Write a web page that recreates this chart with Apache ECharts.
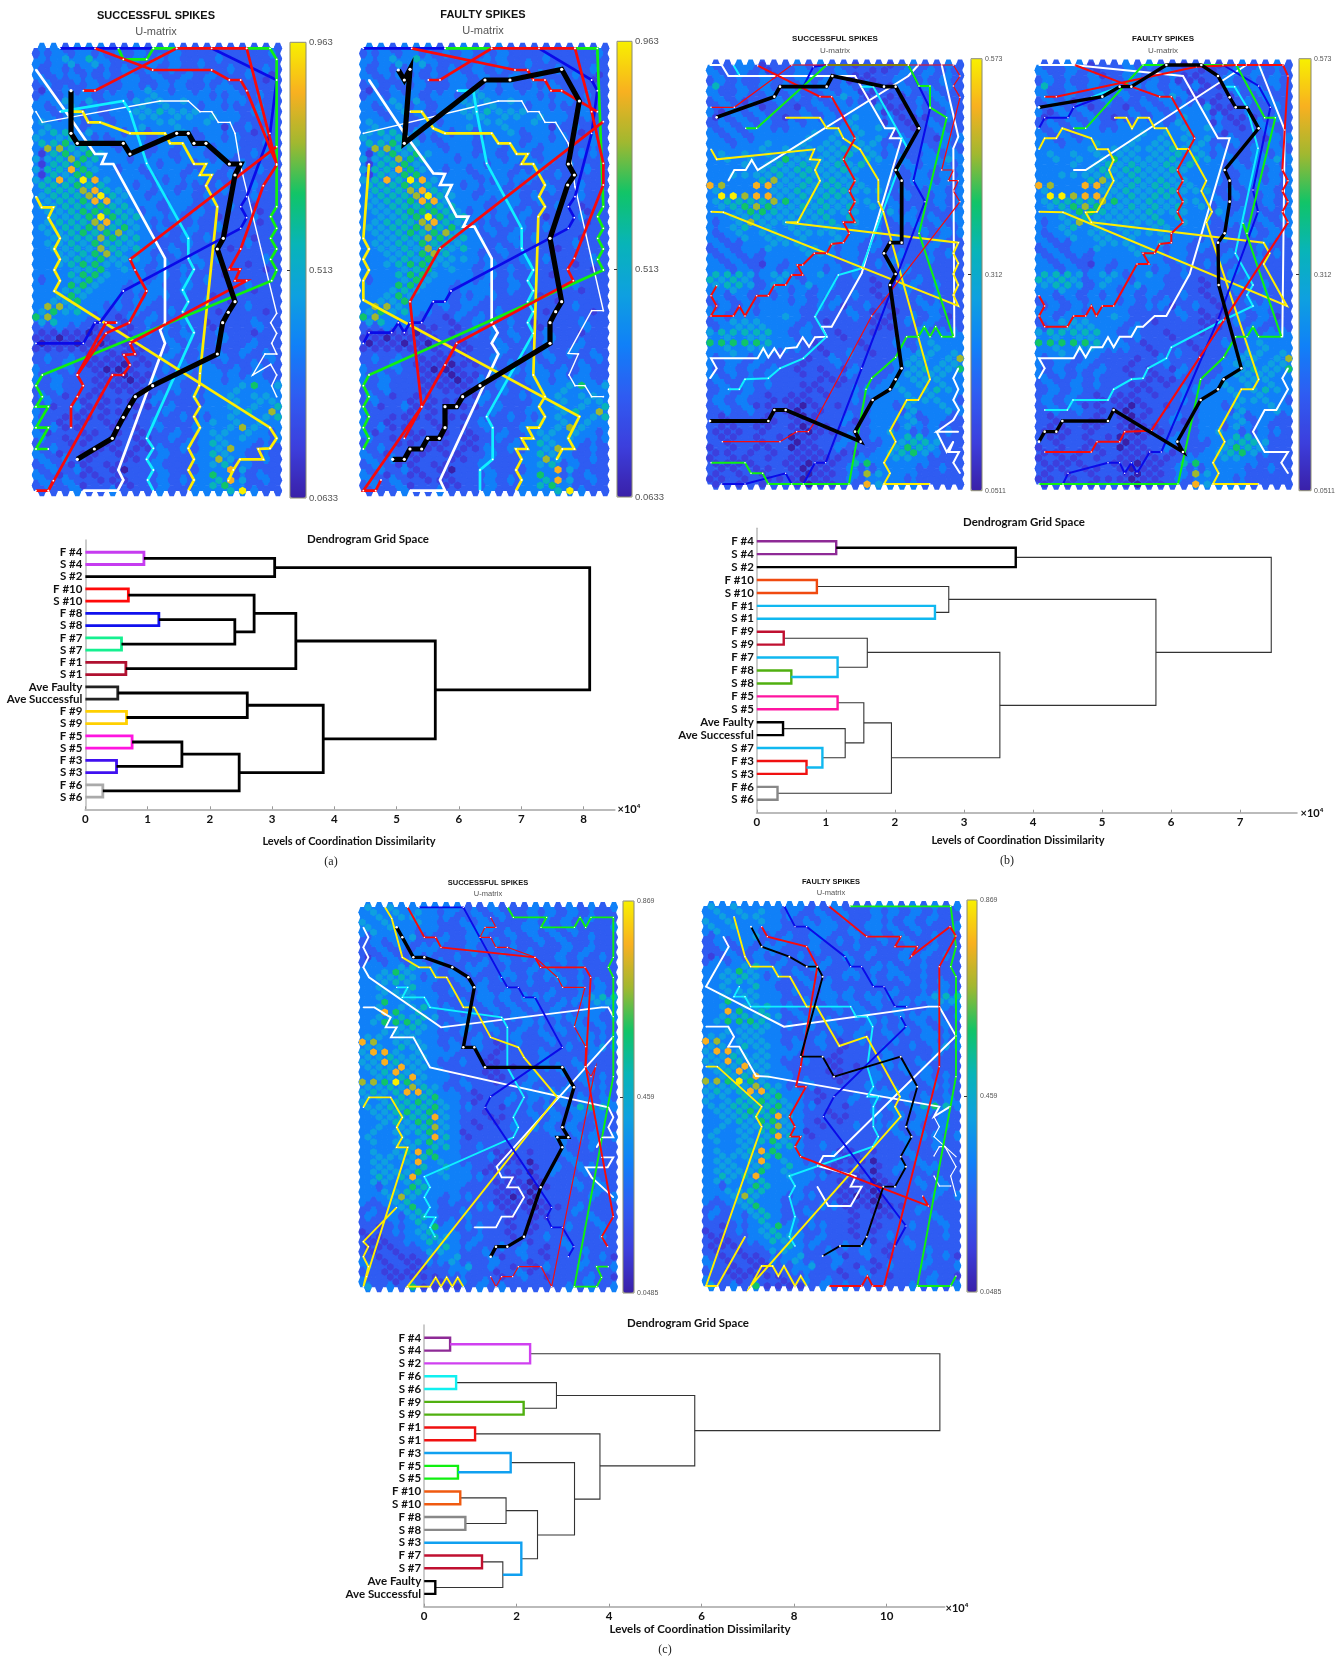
<!DOCTYPE html>
<html><head><meta charset="utf-8">
<style>html,body{margin:0;padding:0;background:#fff}#c{width:1343px;height:1657px}</style>
<script src="https://cdn.jsdelivr.net/npm/echarts@6/dist/echarts.min.js"></script>
</head><body><div id="c"></div>
<script>
// ---------- U-matrix cell levels (0 = range min ... 9 = range max) ----------
const umatrixA=[
"3323332 2322322 2222222","2232322 3232232 2222223","3343532 2323322 2322222","3234343 2223232 3222222",
"2322322 3232322 2232232","3233223 2323223 2322321","3223322 3323232 3222212","2322232 2322332 2232222",
"1232322 3343232 3332222","2323323 3234333 3223232","3343423 3444343 3333222","3234232 3343433 2322232",
"3234323 3445444 3332322","3323232 3344344 3433232","4333232 3334433 4332222","3433233 3343343 3312322",
"4553433 2323342 3332132","4345322 3332333 2323222","5565432 3323332 3332232","3775533 2332323 3233222",
"1564643 3323233 2332332","4457653 3233323 3232222","1556433 3332332 3323222","4558643 2323332 2322232",
"1546633 3323323 3232222","4585984 3332233 3222222","5556553 3233322 2322322","3555785 4332323 2232222",
"4555795 4323332 3222322","3455688 4333233 2322222","4455565 5332332 2232122","3445666 5423232 3222212",
"3445696 5533323 2122322","3455578 5432232 2222212","4455675 6433223 2322222","3445656 7432323 2212222",
"3445576 5532232 3222122","3445465 5433223 2222322","3445475 4532322 2212222","3344567 5332232 2222222",
"3345464 4433223 2322232","3345664 4332322 3222122","3334563 4323232 2222212","3335664 3332322 2212222",
"2334643 3323232 3222222","3336643 3233223 2222322","3345433 2333232 2222122","3346433 3223322 2122222",
"3446333 2332222 3212222","3774332 3232222 2222322","4645332 2322322 2122212","6733322 1323222 2222222",
"4533222 1232232 1222322","2232211 2122322 2122232","1111012 1232232 2322122","1101111 2122323 2232222",
"0110101 1122322 2322322","1111111 2112232 3222322","2222121 1122322 2323232","2323211 1212322 3232223",
"2232111 0112232 3222322","3223210 0122323 3323232","2322211 0112232 3332322","3232211 1013232 3323332",
"2322211 1122322 3334634","2232212 1112232 2334333","3212112 2113223 3343443","2322121 1123222 2334344",
"2123112 2112322 3343435","3222121 1222322 3334537","2211112 1122232 2343345","3212121 1223222 3434343",
"2311221 2123223 3347433","3122112 1212232 3443432","3212121 2112322 3434333","2221121 1212223 3543322",
"2322211 2113232 3473232","3212112 1122322 3543222","3232122 1123223 3743232","2321121 1223222 3452322",
"2323121 0223222 3384222","3212112 1222322 3632232","3232211 1223233 3584232","2323122 1122322 3563222",
"2223223 2223223 3359322"];
const umatrixB=[
"2233122 3232212 21232232","3223212 2322322 11232322","3232312 3322311 22323232","2322232 2323211 12322232",
"5232323 2332323 11323232","3223232 3223231 12232322","3232232 3223431 21122322","2321223 2232322 11223232",
"2323122 1232333 41122232","3132322 2323233 31123222","1232321 2323243 33111232","2323232 3233243 31212322",
"2323322 3333343 43212322","3232333 3343434 33122232","3232333 3434343 42322133","3323343 3434434 42232232",
"3333434 4444544 33223232","3434343 4434453 42322323","3434346 4444535 43323343","3334345 4544545 33232332",
"3333454 5544543 33233233","3344445 4544443 33223232","3333574 4545443 33233233","8733884 4545544 33223332",
"4333344 5445544 42322323","3997884 4545543 33232232","4555576 4454444 33222323","3456764 4545453 42322232",
"3346654 4454443 34232223","3344544 4445353 32332323","2347444 4445343 32332323","3345343 4434433 32223232",
"2343443 4444333 32223233","3234344 3433433 22322232","3223344 4334332 32222322","2323343 3443232 32222322",
"2323233 3443332 22322232","3232233 3333232 22322322","3232132 3333232 33222222","3323232 3332322 22232222",
"5554344 2343232 22322222","5454234 3233222 12223222","4554243 3433222 12332322","3343233 2323222 12232222",
"3232323 3232232 12222322","2323233 2322322 21223222","2323333 3233123 21223322","3323233 3222232 12122322",
"3233334 3222232 11232312","2344433 3221222 11232322","2344433 2322222 11223222","4555553 2322122 12223233",
"3434433 2322122 22223333","6666653 3212221 22323433","3434433 3212221 22323433","3343332 2221232 12234434",
"2332322 2123222 22344347","3232322 2122322 22344344","2323232 1212132 22345446","3232232 2121232 22344443",
"3223222 2211122 23344433","2323232 2112122 23434343","2323222 2112233 33434543","2323212 1121222 33343433",
"3232211 1122232 33344432","2323112 1012122 33243343","2323211 0212222 33243343","2122212 1012232 33342332",
"2122112 1122312 33342322","2112112 1011222 33243322","1112122 1011222 34322332","2112121 0112232 33355322",
"2122122 0122322 23455422","1212112 0112322 23465422","1121212 1112112 34564322","1211212 1111123 33443222",
"1111221 1011256 33333222","2112112 1011232 23332232","1212122 1011237 43332222","1121211 1011232 33322222",
"1212122 1011228 43332222"];
const umatrixC=[
"4343333 33223222 33232323","3434343 23232322 32323222","3434433 32232322 33232322","4343343 22323222 32232322",
"4343333 22333223 33232223","3433323 22233232 32323222","2333422 32332232 32322322","2323322 32232322 23232222",
"2323233 22322232 22232322","2232233 22232222 32232322","1232322 23222323 22323232","2323232 32223232 22232222",
"3334533 22332222 33223222","3346433 23232232 32322222","3445423 23222332 23323222","3345433 22323222 32232232",
"3433532 22332222 22223232","3344433 23223232 22322232","3434433 22233323 33223455","3363433 22323232 32233344",
"3434453 32323232 32322333","3386353 23232323 22322332","3445454 23322233 22333323","3466653 22323222 33223232",
"3334543 32323223 22323232","3344443 22322323 23232322","4434433 22232232 23223333","8734443 23232123 22322322",
"4435443 23232122 22232343","4884343 33222122 23222232","4454443 32221222 23222322","4485443 22321122 23223222",
"4448443 22221212 23323222","3458443 32221122 32232322","3445843 32221122 32223232","7769643 32322122 32222322",
"4454754 22322223 22232332","4545885 33212222 33332222","4435456 33212232 33323232","4345565 43212232 32232323",
"4455556 43322122 23235653","3445656 43221222 32323332","3445558 43221122 32323232","3345466 43212122 22323232",
"3434457 43212232 33232232","3434456 43122222 22323232","4334348 53122222 22323323","3434456 43222222 22232232",
"3334435 53232222 22222322","3434586 33222112 12232222","3444456 33223112 22232222","3443483 43222111 02223222",
"3443453 53321222 12323322","3444463 43321111 02322322","3545833 43332212 12222222","3443453 33322111 01223232",
"3233653 33222111 01223232","3344553 33222111 02222232","3347433 23322101 02222323","3234533 23222111 01222222",
"2234633 22233111 01123222","2323453 22322212 11223222","3232453 22322212 11222322","2223353 23222212 12222232",
"2122346 32332212 12232232","1223345 33222212 12222222","1122345 43232212 23222232","2112335 43232222 12232222",
"1112233 53322323 21232222","2121224 43223223 21222322","2121122 34223123 21222231","3212113 34222322 12222322",
"3212112 23423212 13223223","2211112 23322123 12222222","2211111 22222123 21222321","3221222 12323222 22222322",
"4232611 11232322 22232323"];
// ---------- colour-bar scales ----------
const rangeA=[0.0633,0.513,0.963];
const rangeB=[0.0511,0.312,0.573];
const rangeC=[0.0485,0.459,0.869];
// ---------- best-matching-unit trajectories, in plane coordinates of each panel ----------
const aS_white1=[[108,209],[215,360],[285,462],[318,462],[305,492],[340,492],[495,775],[495,968],[480,990],[495,1030],[355,1410],[370,1440],[353,1472],[250,1472]];
const aS_white2=[[108,335],[127,367],[480,303],[565,303],[600,335],[635,335],[655,367],[690,367],[705,400],[720,490],[830,940],[812,968],[830,1000],[815,1030],[830,1062],[795,1062],[758,1125],[812,1093],[830,1125],[815,1157],[830,1190]];
const aS_cyan=[[180,335],[370,303],[390,335],[440,490],[565,715],[565,775],[582,808],[548,870],[565,905],[548,935],[582,998],[440,1315],[460,1345],[440,1378],[460,1410],[443,1440],[460,1472]];
const aS_yellow1=[[215,335],[248,335],[265,367],[300,367],[390,400],[495,400],[510,430],[548,430],[582,492],[618,492],[600,525],[635,525],[618,557],[652,620],[600,1120],[598,1157],[582,1190],[600,1220],[582,1250],[600,1283],[565,1345],[582,1378],[565,1410],[582,1440],[565,1472]];
const aS_yellow2=[[108,590],[125,622],[160,622],[145,653],[180,715],[163,747],[180,778],[163,810],[180,842],[163,873],[810,1283],[830,1315],[810,1345],[775,1347],[790,1378],[720,1378],[700,1410],[685,1442]];
const aS_blue1=[[180,145],[460,145]];
const aS_blue2=[[635,145],[830,240],[810,400],[740,590],[722,620],[740,653],[722,685],[370,873],[300,968],[285,968],[250,1030],[108,1030]];
const aS_green1=[[355,145],[370,178],[440,178],[460,145],[530,145]];
const aS_green2=[[740,145],[810,145],[830,178],[830,620],[812,650],[830,685],[812,715],[830,747],[812,778],[830,810],[815,842],[127,1125],[108,1157],[127,1190],[108,1220],[145,1220],[108,1283],[145,1283],[108,1347],[145,1347]];
const aS_red1=[[285,145],[458,210],[635,210],[688,240],[722,240],[740,272],[830,492],[740,145],[530,145],[285,272],[250,272]];
const aS_red2=[[830,495],[790,557],[722,747],[688,808],[720,808],[705,842],[740,842],[390,1030],[405,1062],[372,1065],[390,1095],[370,1125],[337,1125],[145,1472],[108,1472]];
const aS_red3=[[830,440],[390,778],[405,810],[440,873],[388,968],[318,1000],[232,1125],[250,1157],[232,1190],[213,1220],[213,1283]];
const aS_red4=[[350,968],[318,968],[232,1125]];
const aS_red5=[[145,1472],[160,1442]];
const aS_black=[[213,272],[213,400],[232,430],[370,430],[390,462],[530,400],[565,400],[582,430],[618,430],[688,492],[722,492],[705,525],[670,715],[652,747],[705,905],[685,937],[668,968],[652,1062],[458,1157],[406,1190],[388,1220],[370,1252],[353,1283],[337,1315],[283,1347],[232,1378]];

const aF_white1=[[72,240],[178,400],[265,520],[300,522],[285,555],[320,555],[303,590],[335,650],[370,650],[355,680],[388,680],[440,775],[440,968],[458,998],[440,1030],[460,1062],[285,1440],[300,1472],[195,1472]];
const aF_white2=[[55,400],[460,303],[530,303],[548,335],[582,335],[600,367],[632,367],[670,430],[690,560],[775,932],[740,932],[670,1060],[700,1062],[672,1125],[690,1157],[720,1157],[740,1190],[775,1190]];
const aF_cyan=[[337,272],[385,272],[395,335],[425,490],[530,685],[530,745],[565,810],[548,842],[565,872],[548,905],[565,935],[548,968],[565,1000],[425,1250],[443,1283],[443,1378],[405,1410],[405,1472]];
const aF_yellow1=[[195,335],[230,335],[265,385],[300,400],[440,400],[460,430],[495,430],[515,462],[548,462],[530,492],[565,492],[600,555],[582,590],[600,620],[580,650],[565,1125],[600,1190],[582,1220],[600,1250],[582,1283],[548,1283],[565,1315],[530,1315],[548,1347],[513,1347],[530,1378],[513,1410],[530,1440],[513,1472]];
const aF_yellow2=[[72,492],[55,715],[72,747],[55,778],[72,810],[55,842],[55,900],[703,1250],[670,1315],[688,1347],[652,1347],[635,1378]];
const aF_blue1=[[55,145],[300,145]];
const aF_blue2=[[582,145],[740,240],[757,272],[740,400],[690,590],[670,620],[688,653],[670,685],[318,873],[300,905],[265,905],[230,968],[195,968],[178,998],[160,968],[140,998],[72,998],[55,1030]];
const aF_green1=[[300,145],[440,145]];
const aF_green2=[[690,145],[757,145],[775,620],[758,650],[775,685],[758,715],[775,747],[758,778],[775,810],[72,1125],[55,1157],[72,1190],[55,1220],[72,1250],[55,1283],[72,1315],[55,1347]];
const aF_red1=[[200,145],[510,210],[548,210],[565,240],[600,240],[618,272],[650,272],[705,305],[757,335]];
const aF_red2=[[250,240],[285,240],[440,145],[690,145],[740,335],[775,490],[775,555],[688,775],[668,808],[685,842],[335,1030],[300,1095],[230,1220],[178,1315]];
const aF_red3=[[775,365],[285,745],[195,905],[230,1220],[55,1472],[92,1472],[108,1440]];
const aF_black=[[160,210],[178,240],[195,208],[178,430],[420,240],[495,240],[650,208],[703,303],[670,492],[688,525],[668,555],[615,715],[650,905],[632,935],[615,968],[615,1030],[405,1157],[353,1190],[335,1220],[300,1220],[300,1283],[283,1315],[248,1315],[230,1347],[195,1347],[178,1378],[143,1378]];

const bS_white1=[[45,135],[80,135],[100,168],[480,168],[570,325],[600,325],[585,355],[620,355],[500,760],[410,920],[380,920],[395,950],[360,952],[342,980],[323,952],[305,982],[272,985],[255,1012],[238,985],[220,1012],[205,985],[188,1015],[48,1015],[65,1045],[45,1075]];
const bS_white2=[[100,482],[118,450],[152,450],[170,420],[188,450],[640,168],[670,135]];
const bS_white3=[[740,135],[790,350],[775,385],[778,950]];
const bS_white4=[[790,1045],[775,1075],[790,1108],[775,1140],[792,1170],[775,1200],[725,1235],[790,1235],[725,1235],[755,1296],[775,1265],[762,1296],[792,1296],[775,1328],[795,1360]];
const bS_cyan1=[[115,135],[133,165]];
const bS_cyan2=[[500,200],[535,200],[635,380],[500,745],[430,765],[360,890],[395,950],[325,1015],[255,1045],[220,1075],[150,1078],[133,1108],[100,1108]];
const bS_yellow1=[[272,293],[375,293],[395,325],[430,325],[445,355],[495,388],[550,480],[550,545],[565,575],[705,1078],[670,1140],[635,1140],[585,1232],[602,1265],[567,1328],[585,1360],[567,1392],[705,1392]];
const bS_yellow2=[[48,388],[65,418],[358,388],[345,418],[375,420],[360,450],[375,482],[308,607],[272,607],[790,668],[775,700],[790,730],[775,762],[790,795],[775,825],[790,858],[85,577],[48,575]];
const bS_red1=[[188,137],[375,230],[410,230],[480,355],[445,418],[480,482],[463,513],[480,545],[463,575],[480,607],[445,607],[463,640],[445,668],[410,672],[395,700],[358,700],[323,735],[307,735],[323,765],[290,765],[272,795],[238,795],[220,827],[185,827],[150,888],[133,858],[115,888],[48,888],[65,858],[48,827],[65,797]];
const bS_red2=[[48,262],[118,262],[290,135],[775,135],[795,168],[775,198],[795,232],[740,450],[775,450],[760,482],[790,482],[775,513],[795,545],[530,888],[360,1205],[340,1235],[305,1235],[255,1265],[82,1265]];
const bS_blue1=[[80,1392],[150,1392],[272,1360],[290,1392]];
const bS_blue2=[[325,1392],[360,1328],[392,1328],[500,1045],[690,545],[655,482],[705,265],[640,135]];
const bS_blue3=[[395,135],[355,140],[325,200]];
const bS_green=[[152,325],[185,325],[395,135],[640,135],[672,198],[705,198],[705,262],[755,293],[672,640],[775,950],[740,950],[722,920],[705,950],[688,920],[670,950],[635,950],[602,1012],[530,1075],[513,1108],[462,1392],[220,1392],[203,1360],[168,1360],[150,1328],[48,1328]];
const bS_black=[[65,292],[238,230],[255,200],[395,200],[412,168],[567,200],[602,200],[672,325],[602,450],[620,482],[620,668],[585,668],[567,700],[602,762],[585,795],[620,1045],[602,1078],[585,1108],[533,1140],[480,1235],[497,1265],[272,1170],[238,1170],[220,1203],[45,1203]];

const bF_white1=[[48,135],[150,135],[480,168],[585,355],[620,355],[500,762],[430,888],[395,888],[360,920],[342,920],[325,950],[290,950],[272,982],[255,952],[238,982],[205,982],[188,1012],[170,982],[152,1015],[48,1015],[65,1045],[48,1075]];
const bF_white2=[[152,450],[188,450],[670,135]];
const bF_white3=[[708,135],[785,330],[778,950]];
const bF_white4=[[795,1045],[778,1075],[795,1108],[760,1170],[725,1170],[690,1235],[725,1296],[795,1296],[775,1328],[795,1360]];
const bF_cyan1=[[205,232],[290,200]];
const bF_cyan2=[[605,200],[635,200],[672,262],[705,385],[637,700],[690,795],[672,825],[690,858],[602,900],[445,982],[430,1015],[375,1045],[360,1075],[325,1078],[272,1108],[255,1140],[150,1140],[133,1170],[65,1170]];
const bF_yellow1=[[275,293],[310,293],[327,325],[345,293],[378,293],[395,325],[430,325],[463,387],[497,387],[550,482],[535,513],[567,575],[550,607],[707,1078],[690,1108],[655,1108],[587,1232],[605,1265],[570,1328],[587,1360],[570,1392],[707,1392]];
const bF_yellow2=[[48,388],[65,355],[100,355],[118,325],[205,355],[222,388],[255,388],[272,420],[258,450],[272,482],[222,575],[188,577],[205,607],[722,668],[740,700],[722,732],[792,858],[120,577],[48,575]];
const bF_red1=[[155,135],[325,200],[410,230],[445,230],[515,355],[463,450],[480,482],[463,513],[480,545],[463,575],[480,607],[445,640],[445,668],[410,672],[395,700],[360,700],[378,732],[342,732],[272,858],[238,858],[220,888],[205,858],[188,888],[152,888],[133,920],[65,920],[48,888],[65,858],[48,827]];
const bF_red2=[[65,230],[100,230],[520,140],[640,135],[780,135],[795,168],[778,450],[795,482],[778,513],[795,545],[778,575],[795,607],[530,1012],[385,1232],[305,1235],[290,1265],[222,1265],[205,1296],[65,1296]];
const bF_blue1=[[48,325],[65,293],[135,293],[152,262],[238,230]];
const bF_blue2=[[600,135],[707,198],[742,262],[690,510],[705,575],[585,900],[415,1296],[380,1296],[342,1360],[325,1328],[305,1360],[290,1328],[255,1328],[135,1360],[120,1392]];
const bF_green=[[152,325],[188,325],[360,135],[640,135],[725,293],[757,293],[672,640],[660,610],[775,950],[707,950],[690,920],[672,950],[638,950],[602,1012],[533,1078],[465,1392],[48,1392]];
const bF_black=[[48,262],[238,230],[290,200],[325,200],[430,135],[535,135],[585,168],[620,232],[638,262],[672,262],[707,325],[605,450],[620,482],[620,545],[605,640],[585,668],[587,795],[655,1045],[602,1078],[585,1108],[533,1140],[463,1265],[480,1296],[272,1170],[255,1203],[118,1203],[100,1235],[65,1235],[48,1265]];

const cS_white1=[[55,172],[70,202],[55,232],[70,262],[55,292],[72,322],[288,472],[770,412],[790,412],[805,440]];
const cS_white2=[[55,412],[88,412],[137,442],[122,472],[155,472],[138,502],[205,502],[255,592],[790,712],[805,742],[790,772],[805,802],[772,802],[755,832],[772,802]];
const cS_white3=[[770,862],[805,862],[788,892],[722,892],[740,922],[805,982]];
const cS_white4=[[805,500],[455,890],[470,922],[503,922],[487,952],[520,952],[537,982],[503,1040],[470,1040],[453,1072],[388,1072]];
const cS_cyan=[[155,352],[188,352],[172,382],[238,382],[255,412],[470,442],[487,472],[487,592],[537,682],[505,742],[520,772],[505,802],[238,920],[255,952],[238,982],[255,1012],[238,1040],[272,1042],[255,1072],[270,1100]];
const cS_yellow1=[[120,112],[140,145],[172,262],[222,292],[255,292],[272,322],[305,322],[355,412],[388,412],[437,502],[520,532],[537,562],[637,682],[187,1250],[255,1250],[272,1222],[288,1250],[305,1222],[322,1250],[338,1222],[355,1250]];
const cS_yellow2=[[55,712],[72,682],[137,682],[172,742],[155,772],[172,802],[155,832],[188,832],[65,1220],[55,1250],[70,1190],[55,1160],[70,1130],[55,1115],[155,1012]];
const cS_blue=[[222,112],[355,112],[470,322],[487,352],[520,352],[537,382],[570,382],[652,532],[437,680],[420,712],[620,1012],[605,1042],[620,1072],[652,1072],[687,1130],[670,1160]];
const cS_green=[[488,112],[505,142],[605,142],[588,172],[688,172],[705,142],[722,172],[738,142],[805,142],[805,262],[790,292],[805,322],[805,620],[688,1250],[755,1250],[770,1222],[755,1190],[790,1190]];
const cS_red1=[[188,112],[238,202],[272,202],[288,232],[570,262],[587,292],[720,292],[737,322],[722,590],[805,1040],[770,1100],[788,1130]];
const cS_red2=[[437,142],[453,172],[420,172],[405,202],[437,202],[453,232],[487,232],[570,262],[637,322],[653,352],[720,352],[688,470],[722,530],[720,590],[738,620],[752,590],[620,1250],[588,1190],[520,1190],[503,1220],[470,1220],[453,1250],[437,1220]];
const cS_black=[[155,172],[172,202],[205,262],[238,262],[322,292],[370,322],[388,352],[355,532],[388,532],[420,592],[652,592],[687,652],[652,772],[670,802],[637,802],[652,832],[587,952],[537,1100],[487,1130],[453,1130],[437,1160]];

const cF_white1=[[100,200],[116,230],[48,350],[282,470],[715,410],[748,410],[798,498],[432,858],[400,858],[383,888],[495,918]];
const cF_white2=[[48,470],[115,470],[132,500],[115,530],[148,530],[198,618],[235,620],[748,710],[732,740],[780,710]];
const cF_white3=[[732,740],[748,770],[732,800],[798,860]];
const cF_white4=[[732,858],[748,830],[765,830],[798,890],[782,918],[798,978]];
const cF_white5=[[732,918],[748,948],[782,948]];
const cF_white6=[[382,950],[415,1008],[482,1008],[515,950],[482,950],[498,918]];
const cF_cyan=[[148,350],[132,380],[165,380],[182,410],[482,410],[498,440],[532,440],[548,470],[532,590],[550,650],[532,680],[565,680],[550,710],[550,770],[565,800],[548,830],[298,918],[315,948],[298,980],[315,1040],[298,1100],[315,1128]];
const cF_yellow1=[[132,140],[165,260],[182,290],[248,290],[265,320],[300,320],[350,410],[380,410],[448,528],[530,500],[630,680],[615,710],[632,740],[182,1248],[215,1188],[248,1188],[265,1218],[282,1188],[315,1248],[332,1218],[350,1248]];
const cF_yellow2=[[48,590],[82,590],[215,710],[198,740],[215,770],[48,1248],[82,1248],[165,1100]];
const cF_blue1=[[283,109],[315,170],[350,170],[465,260],[482,290],[515,290],[550,350],[582,350],[615,410],[650,410]];
const cF_blue2=[[632,440],[648,470],[432,680],[400,740],[648,1068],[615,1128]];
const cF_green=[[480,109],[782,109],[798,230],[782,290],[798,320],[798,620],[682,1248],[782,1248],[798,1218]];
const cF_red1=[[417,109],[530,200],[632,200],[615,230],[682,230],[665,258],[780,170],[798,198],[748,290],[748,590],[582,1248],[548,1248],[532,1218],[515,1248],[417,1248]];
const cF_red2=[[215,170],[232,200],[350,230],[382,290],[332,590],[318,650],[348,650],[298,740],[315,770],[300,800],[332,800],[315,830],[332,860],[715,1008],[698,978]];
const cF_black=[[183,170],[215,230],[298,260],[350,290],[382,290],[398,320],[332,560],[398,560],[432,620],[632,560],[682,650],[648,770],[665,800],[632,860],[648,890],[615,950],[580,950],[530,1100],[515,1128],[450,1128],[398,1158]];

// ---------- dendrograms: leaf labels and merges [leaf1, level1, leaf2, level2, joinLevel] (×10^4) ----------
const dendA_labels=["F #4","S #4","S #2","F #10","S #10","F #8","S #8","F #7","S #7","F #1","S #1","Ave Faulty","Ave Successful","F #9","S #9","F #5","S #5","F #3","S #3","F #6","S #6"];
const dendA_merges=[[1,0,2,0,.94],[1.5,.94,3,0,3.04],[4,0,5,0,.69],[6,0,7,0,1.18],[8,0,9,0,.58],[6.5,1.18,8.5,.58,2.4],[4.5,.69,7.5,2.4,2.71],[10,0,11,0,.65],[6,2.71,10.5,.65,3.38],[12,0,13,0,.52],[14,0,15,0,.66],[12.5,.52,14.5,.66,2.6],[16,0,17,0,.75],[18,0,19,0,.5],[16.5,.75,18.5,.5,1.55],[20,0,21,0,.28],[17.5,1.55,20.5,.28,2.47],[13.5,2.6,19,2.47,3.82],[8.25,3.38,16.25,3.82,5.62],[2.25,3.04,12.25,5.62,8.1]];
const dendA_ticks=[0,1,2,3,4,5,6,7,8];
const dendB_labels=["F #4","S #4","S #2","F #10","S #10","F #1","S #1","F #9","S #9","F #7","F #8","S #8","F #5","S #5","Ave Faulty","Ave Successful","S #7","F #3","S #3","F #6","S #6"];
const dendB_merges=[[1,0,2,0,1.15],[1.5,1.15,3,0,3.75],[4,0,5,0,.87],[6,0,7,0,2.58],[4.5,.87,6.5,2.58,2.78],[8,0,9,0,.39],[11,0,12,0,.5],[10,0,11.5,.5,1.17],[8.5,.39,10.75,1.17,1.6],[13,0,14,0,1.17],[15,0,16,0,.38],[18,0,19,0,.72],[17,0,18.5,.72,.95],[15.5,.38,17.75,.95,1.28],[13.5,1.17,16.6,1.28,1.55],[20,0,21,0,.3],[15.05,1.55,20.5,.3,1.95],[9.6,1.6,17.75,1.95,3.52],[5.5,2.78,13.7,3.52,5.78],[2.25,3.75,9.6,5.78,7.45]];
const dendB_ticks=[0,1,2,3,4,5,6,7];
const dendC_labels=["F #4","S #4","S #2","F #6","S #6","F #9","S #9","F #1","S #1","F #3","F #5","S #5","F #10","S #10","F #8","S #8","S #3","F #7","S #7","Ave Faulty","Ave Successful"];
const dendC_merges=[[1,0,2,0,.56],[1.5,.56,3,0,2.29],[4,0,5,0,.69],[6,0,7,0,2.15],[4.5,.69,6.5,2.15,2.86],[8,0,9,0,1.1],[11,0,12,0,.73],[10,0,11.5,.73,1.87],[13,0,14,0,.78],[15,0,16,0,.89],[13.5,.78,15.5,.89,1.77],[18,0,19,0,1.25],[20,0,21,0,.24],[18.5,1.25,20.5,.24,1.7],[17,0,19.5,1.7,2.1],[14.5,1.77,18.25,2.1,2.45],[10.75,1.87,16.4,2.45,3.25],[8.5,1.1,13.6,3.25,3.8],[5.5,2.86,11,3.8,5.85],[2.25,2.29,8.25,5.85,11.15]];
const dendC_ticks=[0,2,4,6,8,10];

// ---------- styling and layout ----------
const dendA_colors=['#c63cf0','#000','#ff0a0a','#1010ee','#14f090','#000','#000','#b01030','#000','#222','#ffd000','#000','#ff14e0','#4010f0','#000','#aaa','#000','#000','#000','#000'];
const dendB_colors=['#8e2a96','#000','#f04a10','#10b8f0',null,'#c01030','#50b010','#10b8f0',null,'#ff14a0','#000','#f01010','#10b8f0',null,null,'#888',null,null,null,null];
const dendC_colors=['#8e2a96','#d040f0','#10f0f0','#50b010',null,'#f01010','#10f010','#10a0f0','#f05a10','#888',null,'#c01030','#000',null,'#10a0f0',null,null,null,null,null];
const NARROW='Lato,"Liberation Sans",sans-serif';
const SANS='"Liberation Sans",Arial,sans-serif';
const parula=['#3a20a8','#3c3fdd','#2f5cf2','#1080f8','#0ea0e0','#08b4b8','#10c468','#a0b830','#f8b020','#f8f000'];
const lineColor={white:'#ffffff',cyan:'#10f0ff',yellow:'#ffee00',blue:'#0a0ae8',green:'#10f010',red:'#f80a0a',black:'#000000'};
const hexPath='path://M0,-100L86.6,-50L86.6,50L0,100L-86.6,50L-86.6,-50Z';
const tilePath='path://M-100,0L-50,-100L50,-100L100,0L50,100L-50,100Z';

const panels=[
 {crop:[0,0,340,510],org:[108,145],step:[35.4,15.8],map:umatrixA,range:rangeA,bar:[290,42.3,16,455.7],lab:9.5,mar:3,w:{black:5.2,c:2.7,thin:1.4},dot:[3.2,1.8],
  lines:[[aS_white1,'white','c'],[aS_white2,'white','thin'],[aS_cyan,'cyan','c'],[aS_yellow1,'yellow','c'],[aS_yellow2,'yellow','c'],[aS_blue1,'blue','c'],[aS_blue2,'blue','c'],[aS_green1,'green','c'],[aS_green2,'green','c'],[aS_red1,'red','c'],[aS_red2,'red','c'],[aS_red3,'red','c'],[aS_red4,'red','c'],[aS_red5,'red','c'],[aS_black,'black','black']]},
 {crop:[345,0,340,510],org:[55,145],step:[35.4,15.8],map:umatrixA,range:rangeA,bar:[617,41.3,15,455.7],lab:9.5,mar:3,w:{black:5.2,c:2.7,thin:1.4},dot:[3.2,1.8],
  lines:[[aF_white1,'white','c'],[aF_white2,'white','thin'],[aF_cyan,'cyan','c'],[aF_yellow1,'yellow','c'],[aF_yellow2,'yellow','c'],[aF_blue1,'blue','c'],[aF_blue2,'blue','c'],[aF_green1,'green','c'],[aF_green2,'green','c'],[aF_red1,'red','c'],[aF_red2,'red','c'],[aF_red3,'red','c'],[aF_black,'black','black']]},
 {crop:[695,20,320,480],org:[45,135],step:[34.9,15.72],map:umatrixB,range:rangeB,bar:[971,58.7,11,432],lab:7,mar:3,w:{black:3.8,c:2,thin:1.2},dot:[2.6,1.5],
  lines:[[bS_white1,'white','c'],[bS_white2,'white','c'],[bS_white3,'white','c'],[bS_white4,'white','c'],[bS_cyan1,'cyan','c'],[bS_cyan2,'cyan','c'],[bS_yellow1,'yellow','c'],[bS_yellow2,'yellow','c'],[bS_blue1,'blue','c'],[bS_blue2,'blue','c'],[bS_blue3,'blue','c'],[bS_green,'green','c'],[bS_red1,'red','c'],[bS_red2,'red','thin'],[bS_black,'black','black']]},
 {crop:[1023,20,320,480],org:[47,135],step:[34.9,15.72],map:umatrixB,range:rangeB,bar:[1299,58.7,12,432],lab:7,mar:3,w:{black:3.4,c:2,thin:1.2},dot:[2.6,1.5],
  lines:[[bF_white1,'white','c'],[bF_white2,'white','c'],[bF_white3,'white','c'],[bF_white4,'white','c'],[bF_cyan1,'cyan','c'],[bF_cyan2,'cyan','c'],[bF_yellow1,'yellow','c'],[bF_yellow2,'yellow','c'],[bF_blue1,'blue','c'],[bF_blue2,'blue','c'],[bF_green,'green','c'],[bF_red1,'red','c'],[bF_red2,'red','c'],[bF_black,'black','black']]},
 {crop:[345,870,320,430],org:[52,112],step:[33.55,14.98],map:umatrixC,range:rangeC,bar:[623,901,11,392],lab:7,mar:3,w:{black:3.4,c:1.9,thin:1.1},dot:[2.5,1.4],
  lines:[[cS_white1,'white','c'],[cS_white2,'white','c'],[cS_white3,'white','c'],[cS_white4,'white','c'],[cS_cyan,'cyan','c'],[cS_yellow1,'yellow','c'],[cS_yellow2,'yellow','c'],[cS_blue,'blue','c'],[cS_green,'green','c'],[cS_red1,'red','c'],[cS_red2,'red','thin'],[cS_black,'black','black']]},
 {crop:[690,870,320,430],org:[47,109],step:[33.55,14.98],map:umatrixC,range:rangeC,bar:[967,900,10,392],lab:7,mar:3,w:{black:1.9,c:1.9,thin:1.1},dot:[2,1.4],
  lines:[[cF_white1,'white','c'],[cF_white2,'white','c'],[cF_white3,'white','thin'],[cF_white4,'white','thin'],[cF_white5,'white','thin'],[cF_white6,'white','c'],[cF_cyan,'cyan','c'],[cF_yellow1,'yellow','c'],[cF_yellow2,'yellow','c'],[cF_blue1,'blue','c'],[cF_blue2,'blue','c'],[cF_green,'green','c'],[cF_red1,'red','c'],[cF_red2,'red','c'],[cF_black,'black','black']]}
];
const dendros=[
 {labels:dendA_labels,merges:dendA_merges,colors:dendA_colors,ticks:dendA_ticks,rect:[85.4,540,529.2,269.3],xmax:8.5,heavy:2.8,thin:2.8,defColor:'#000'},
 {labels:dendB_labels,merges:dendB_merges,colors:dendB_colors,ticks:dendB_ticks,rect:[756.8,528.3,540,284.4],xmax:7.82,heavy:2.4,thin:1.1,defColor:'#333'},
 {labels:dendC_labels,merges:dendC_merges,colors:dendC_colors,ticks:dendC_ticks,rect:[424.2,1325,520.3,281.7],xmax:11.25,heavy:2.4,thin:1.1,defColor:'#333'}
];
const texts=[
 ['SUCCESSFUL SPIKES',156,16,SANS,'bold',11,'#111'],['U-matrix',156,32,SANS,'normal',11,'#555'],
 ['FAULTY SPIKES',483,15,SANS,'bold',11,'#111'],['U-matrix',483,31,SANS,'normal',11,'#555'],
 ['SUCCESSFUL SPIKES',835,39,SANS,'bold',8,'#111'],['U-matrix',835,51,SANS,'normal',8,'#555'],
 ['FAULTY SPIKES',1163,39,SANS,'bold',8,'#111'],['U-matrix',1163,51,SANS,'normal',8,'#555'],
 ['SUCCESSFUL SPIKES',488,883,SANS,'bold',7.5,'#111'],['U-matrix',488,894,SANS,'normal',7.5,'#555'],
 ['FAULTY SPIKES',831,882,SANS,'bold',7.5,'#111'],['U-matrix',831,893,SANS,'normal',7.5,'#555'],
 ['Dendrogram Grid Space',368,539,NARROW,'bold',11.5,'#111'],['Levels of Coordination Dissimilarity',349,841,NARROW,'bold',11,'#111'],
 ['Dendrogram Grid Space',1024,522,NARROW,'bold',11.5,'#111'],['Levels of Coordination Dissimilarity',1018,840,NARROW,'bold',11,'#111'],
 ['Dendrogram Grid Space',688,1323,NARROW,'bold',11.5,'#111'],['Levels of Coordination Dissimilarity',700,1629,NARROW,'bold',11.5,'#111'],
 ['×10⁴',629,809,NARROW,'bold',11,'#111'],['×10⁴',1312,813,NARROW,'bold',11,'#111'],['×10⁴',957,1608,NARROW,'bold',11,'#111'],
 ['(a)',331,862,'"Liberation Serif",serif','normal',12,'#222'],['(b)',1007,861,'"Liberation Serif",serif','normal',12,'#222'],['(c)',665,1650,'"Liberation Serif",serif','normal',12,'#222']
];

// ---------- build option ----------
const grid=[],xAxis=[],yAxis=[],series=[],visualMap=[];
panels.forEach((p,i)=>{
  const [cx,cy,cw,ch]=p.crop;
  grid.push({left:cx,top:cy,width:cw,height:ch});
  xAxis.push({type:'value',show:false,min:0,max:cw*3,gridIndex:i});
  yAxis.push({type:'value',show:false,min:0,max:ch*3,inverse:true,gridIndex:i});
  const tiles=[];
  p.map.forEach((row,r)=>{
    row.replace(/ /g,'').split('').forEach((d,c)=>{
      const x=p.org[0]+p.step[0]*(c+(r%2?0:0.5)),y=p.org[1]+p.step[1]*r;
      tiles.push({value:[x,y],itemStyle:{color:parula[Math.min(Math.max(+d,2),3)]}});
    });
  });
  const u=p.step[0]/3;
  series.push({type:'scatter',xAxisIndex:i,yAxisIndex:i,data:tiles,symbol:tilePath,symbolSize:[u*.72,u*.95],silent:true,animation:false,z:1,clip:false,itemStyle:{opacity:1}});
});
panels.forEach((p,i)=>{
  const lo=p.range[0],hi=p.range[2],cells=[];
  p.map.forEach((row,r)=>{
    row.replace(/ /g,'').split('').forEach((d,c)=>{
      cells.push([p.org[0]+p.step[0]*(c+(r%2?0:0.5)),p.org[1]+p.step[1]*r,lo+(hi-lo)*(+d)/9]);
    });
  });
  const u=p.step[0]/3;
  series.push({type:'scatter',xAxisIndex:i,yAxisIndex:i,data:cells,symbol:hexPath,symbolSize:[u*.6,u*.68],silent:true,animation:false,z:2,clip:false,itemStyle:{opacity:1}});
  visualMap.push({type:'continuous',seriesIndex:panels.length+i,dimension:2,min:lo,max:hi,left:p.bar[0],top:p.bar[1],itemWidth:p.bar[2],itemHeight:p.bar[3],padding:0,calculable:false,hoverLink:false,inRange:{color:parula}});
});
panels.forEach((p,i)=>{
  p.lines.forEach(([pts,col,wk])=>{
    const isB=col==='black';
    series.push({type:'line',xAxisIndex:i,yAxisIndex:i,data:pts,clip:false,animation:false,silent:true,z:isB?4:3,
      symbol:'circle',symbolSize:isB?p.dot[0]:p.dot[1],showSymbol:true,
      itemStyle:{color:'#fff',borderWidth:0},lineStyle:{color:lineColor[col],width:p.w[isB?'black':wk],join:'miter',cap:'butt'}});
  });
});
panels.forEach((p)=>{
  const gi=grid.length;
  grid.push({left:p.bar[0],top:p.bar[1],width:p.bar[2],height:p.bar[3],show:true,borderColor:'#8a8a70',borderWidth:1,z:6,backgroundColor:'transparent'});
  xAxis.push({type:'value',gridIndex:gi,show:false,min:0,max:1});
  yAxis.push({type:'value',gridIndex:gi,position:'right',min:p.range[0],max:p.range[2],splitLine:{show:false},axisLine:{show:false},z:7,
    axisTick:{show:true,inside:true,length:3,customValues:[p.range[1]],lineStyle:{color:'#333'}},
    axisLabel:{show:true,margin:p.mar,fontSize:p.lab,fontFamily:SANS,color:'#555',customValues:p.range.slice(),formatter:v=>String(+(+v).toFixed(4)),showMinLabel:true,showMaxLabel:true}});
});
dendros.forEach(d=>{
  const gi=grid.length;
  grid.push({left:d.rect[0],top:d.rect[1],width:d.rect[2],height:d.rect[3]});
  const fontx={fontFamily:NARROW,fontWeight:'bold',fontSize:11.5,color:'#111'};
  xAxis.push({type:'value',gridIndex:gi,min:0,max:d.xmax,splitLine:{show:false},
    axisLine:{show:true,onZero:false,lineStyle:{color:'#bbb',width:2}},
    axisTick:{show:true,inside:true,length:3,customValues:d.ticks,lineStyle:{color:'#999'}},
    axisLabel:Object.assign({margin:4,customValues:d.ticks,formatter:v=>String(v)},fontx)});
  const idx=d.labels.map((_,k)=>k+1);
  yAxis.push({type:'value',gridIndex:gi,inverse:true,min:0,max:22,splitLine:{show:false},
    axisLine:{show:true,onZero:false,lineStyle:{color:'#bbb',width:1.5}},axisTick:{show:false},
    axisLabel:Object.assign({margin:3,customValues:idx,hideOverlap:false,showMinLabel:true,showMaxLabel:true,formatter:v=>d.labels[Math.round(v)-1]||''},fontx)});
  d.merges.forEach((m,k)=>{
    const c=d.colors[k];
    series.push({type:'line',xAxisIndex:gi,yAxisIndex:gi,symbol:'none',animation:false,silent:true,z:c?3:2,
      data:[[m[1],m[0]],[m[4],m[0]],[m[4],m[2]],[m[3],m[2]]],
      lineStyle:{color:c||d.defColor,width:c?d.heavy:d.thin,join:'miter',cap:'butt'}});
  });
});
const title=texts.map(t=>({text:t[0],left:t[1],top:t[2],textAlign:'center',textVerticalAlign:'middle',padding:0,
  textStyle:{fontFamily:t[3],fontWeight:t[4],fontSize:t[5],color:t[6]}}));

const chart=echarts.init(document.getElementById('c'),null,{renderer:'canvas'});
chart.setOption({backgroundColor:'#fff',animation:false,title,grid,xAxis,yAxis,visualMap,series});
</script></body></html>
